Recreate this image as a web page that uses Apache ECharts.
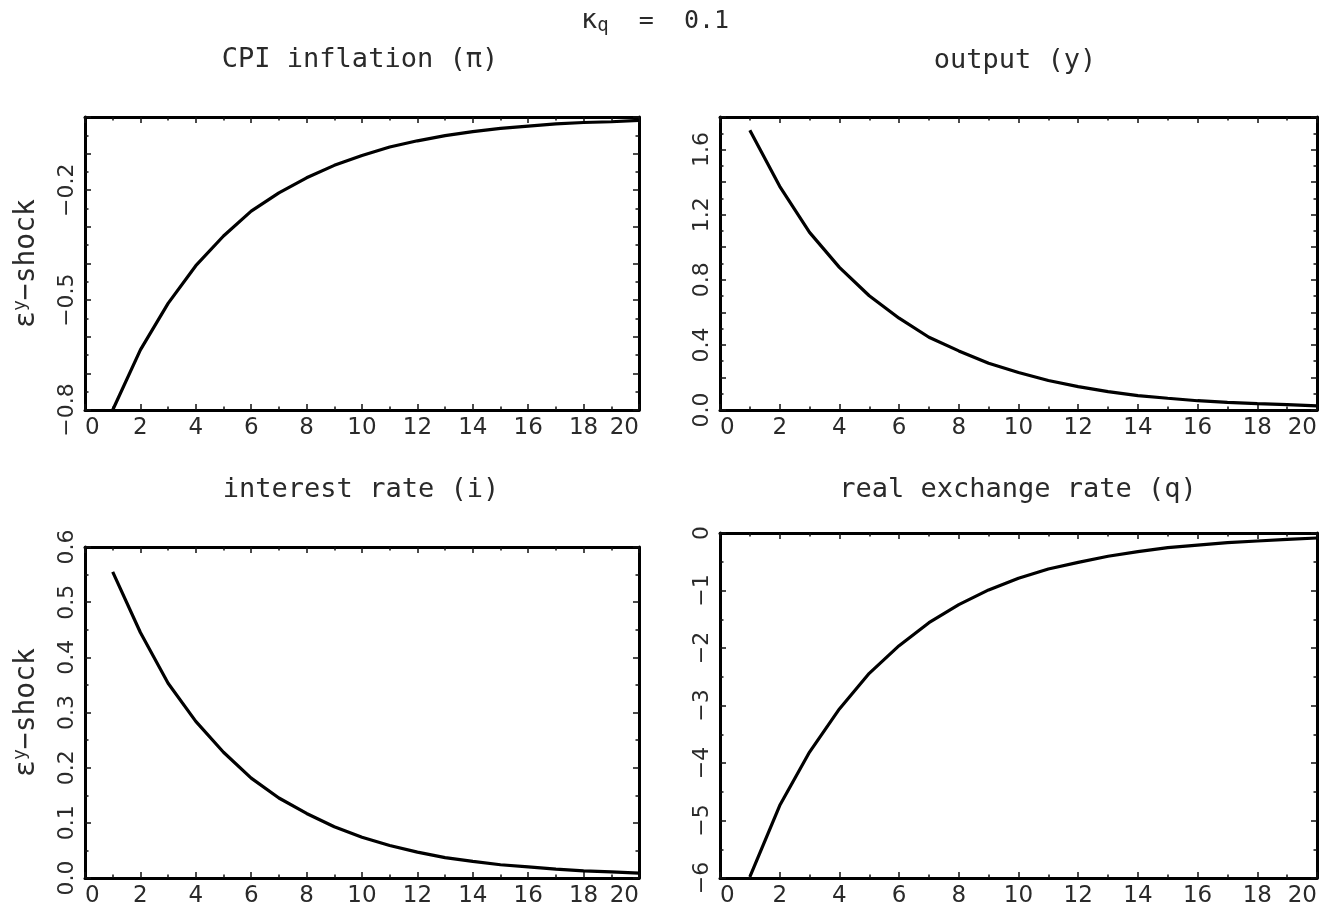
<!DOCTYPE html>
<html>
<head>
<meta charset="utf-8">
<script src="https://cdn.jsdelivr.net/npm/echarts@6/dist/echarts.min.js"></script>
<style>
html, body { margin: 0; padding: 0; background: #fff; }
#main { width: 1340px; height: 913px; }
</style>
</head>
<body>
<div id="main"></div>
<script>
// horizon (quarters)
var periods = [1, 2, 3, 4, 5, 6, 7, 8, 9, 10, 11, 12, 13, 14, 15, 16, 17, 18, 19, 20];
// impulse responses to the output shock
var cpiInflation = [-0.80, -0.636, -0.509, -0.406, -0.325, -0.257, -0.207, -0.166, -0.132, -0.105,
    -0.082, -0.065, -0.051, -0.040, -0.031, -0.025, -0.019, -0.015, -0.013, -0.009];
var output = [1.719, 1.374, 1.091, 0.876, 0.702, 0.564, 0.447, 0.363, 0.287, 0.230,
    0.181, 0.144, 0.113, 0.088, 0.072, 0.057, 0.047, 0.039, 0.033, 0.025];
var interestRate = [0.555, 0.445, 0.353, 0.284, 0.228, 0.181, 0.145, 0.117, 0.093, 0.074,
    0.059, 0.047, 0.037, 0.030, 0.024, 0.020, 0.016, 0.013, 0.011, 0.009];
var exchangeRate = [-5.98, -4.74, -3.81, -3.06, -2.44, -1.96, -1.56, -1.245, -0.99, -0.787,
    -0.625, -0.51, -0.405, -0.324, -0.255, -0.21, -0.168, -0.139, -0.11, -0.087];
// labels shown on each y axis
var cpiTicks = ['-0.8', '-0.5', '-0.2'];
var outputTicks = ['0.0', '0.4', '0.8', '1.2', '1.6'];
var rateTicks = ['0.0', '0.1', '0.2', '0.3', '0.4', '0.5', '0.6'];
var exchTicks = ['-6', '-5', '-4', '-3', '-2', '-1', '0'];
var titles = ['CPI inflation (π)', 'output (y)', 'interest rate (i)', 'real exchange rate (q)'];

var FONT = 'DejaVu Sans';
var MONO = 'DejaVu Sans Mono';
var INK = '#2a2a2a';

var panels = [
    { box: [85, 117, 639, 410], data: cpiInflation, min: -0.8, max: 0, step: 0.1, dec: 1, shown: cpiTicks, yname: true, title: [360, 60] },
    { box: [720, 117, 1317, 410], data: output, min: 0, max: 1.8, step: 0.2, dec: 1, shown: outputTicks, yname: false, title: [1015, 61] },
    { box: [85, 547, 639, 878], data: interestRate, min: 0, max: 0.6, step: 0.1, dec: 1, shown: rateTicks, yname: true, title: [361, 490] },
    { box: [720, 533, 1317, 878], data: exchangeRate, min: -6, max: 0, step: 1, dec: 0, shown: exchTicks, yname: false, title: [1018, 490] }
];

function fmtNum(v, dec) {
    var s = (Math.round(v * Math.pow(10, dec)) / Math.pow(10, dec)).toFixed(dec);
    if (/^-0(\.0+)?$/.test(s)) s = s.slice(1);
    return s;
}

var frame = { show: true, onZero: false, lineStyle: { color: '#000', width: 3 } };
var tick = { show: true, inside: true, length: 6, lineStyle: { color: '#111', width: 1.5 } };
var minor = { show: true, splitNumber: 2, length: 3.5, lineStyle: { color: '#111', width: 1.5 } };

var grids = [], xAxes = [], yAxes = [], series = [], graphics = [];
for (var p = 0; p < panels.length; p++) {
    var P = panels[p];
    grids.push({ left: P.box[0], top: P.box[1], width: P.box[2] - P.box[0], height: P.box[3] - P.box[1] });
    // bottom / top
    xAxes.push({
        type: 'value', gridIndex: p, position: 'bottom', min: 0, max: 20, interval: 2,
        axisLine: frame, axisTick: tick, minorTick: minor, splitLine: { show: false },
        axisLabel: { margin: 7, fontFamily: FONT, fontSize: 23, color: INK, alignMinLabel: 'left', alignMaxLabel: 'right' }
    });
    xAxes.push({
        type: 'value', gridIndex: p, position: 'top', min: 0, max: 20, interval: 2,
        axisLine: frame, axisTick: tick, minorTick: minor, splitLine: { show: false },
        axisLabel: { show: false }
    });
    (function (P) {
        yAxes.push({
            type: 'value', gridIndex: p, position: 'left', min: P.min, max: P.max, interval: P.step,
            axisLine: frame, axisTick: tick, minorTick: minor, splitLine: { show: false },
            axisLabel: {
                rotate: 90, margin: 7, fontFamily: FONT, fontSize: 22, color: INK,
                formatter: function (v) {
                    var s = fmtNum(v, P.dec);
                    return P.shown.indexOf(s) >= 0 ? s.replace('-', '\u2212') : '';
                }
            },
            name: P.yname ? '{e|ε}{s|y}{t|\u2212shock}' : '',
            nameLocation: 'middle', nameRotate: 90, nameGap: 42,
            nameTextStyle: {
                fontFamily: MONO, color: INK,
                rich: {
                    e: { fontFamily: MONO, fontSize: 28, color: INK, lineHeight: 32, verticalAlign: 'middle' },
                    s: { fontFamily: MONO, fontSize: 18, color: INK, lineHeight: 32, verticalAlign: 'top' },
                    t: { fontFamily: MONO, fontSize: 28, color: INK, lineHeight: 32, verticalAlign: 'middle' }
                }
            }
        });
    })(P);
    yAxes.push({
        type: 'value', gridIndex: p, position: 'right', min: P.min, max: P.max, interval: P.step,
        axisLine: frame, axisTick: tick, minorTick: minor, splitLine: { show: false },
        axisLabel: { show: false }
    });
    series.push({
        type: 'line', xAxisIndex: p * 2, yAxisIndex: p * 2,
        data: periods.map(function (x, k) { return [x, P.data[k]]; }),
        showSymbol: false, symbol: 'none', silent: true,
        lineStyle: { color: '#000', width: 3.2 }
    });
    graphics.push({
        type: 'text', x: P.title[0], y: P.title[1],
        style: { text: titles[p], align: 'center', verticalAlign: 'middle', font: '27px "' + MONO + '"', fill: INK }
    });
}

graphics.push({
    type: 'text', x: 655, y: 21,
    style: {
        text: '{k|κ}{q|q}{e|  =  0.1}', align: 'center', verticalAlign: 'middle',
        rich: {
            k: { fontFamily: MONO, fontSize: 27, fill: INK, lineHeight: 30, verticalAlign: 'middle' },
            q: { fontFamily: MONO, fontSize: 19, fill: INK, lineHeight: 30, verticalAlign: 'bottom' },
            e: { fontFamily: MONO, fontSize: 25, fill: INK, lineHeight: 30, verticalAlign: 'middle' }
        }
    }
});

var option = {
    animation: false,
    backgroundColor: '#fff',
    grid: grids,
    xAxis: xAxes,
    yAxis: yAxes,
    series: series,
    graphic: graphics
};

var myChart = echarts.init(document.getElementById('main'));
myChart.setOption(option);
</script>
</body>
</html>
